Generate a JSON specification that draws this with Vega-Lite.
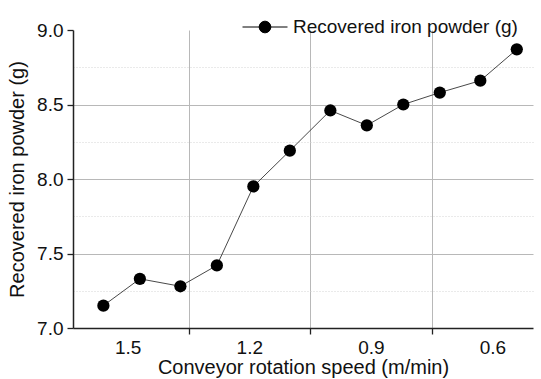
{
  "$schema": "https://vega.github.io/schema/vega-lite/v6.json",
  "width": 460,
  "height": 298,
  "autosize": {"type": "none"},
  "padding": {"left": 73, "top": 30, "right": 8, "bottom": 51},
  "background": "white",
  "config": {
    "view": {"stroke": null},
    "font": "Liberation Sans",
    "axis": {"labelFont": "Liberation Sans", "titleFont": "Liberation Sans", "labelColor": "#111", "titleColor": "#111", "labelFontSize": 19, "titleFontSize": 20, "titleFontWeight": "normal", "domainColor": "#222", "domainWidth": 1.5, "tickColor": "#222", "tickWidth": 1.3}
  },
  "data": {"values": [
    {"speed": 1.56, "iron": 7.15},
    {"speed": 1.47, "iron": 7.33},
    {"speed": 1.37, "iron": 7.28},
    {"speed": 1.28, "iron": 7.42},
    {"speed": 1.19, "iron": 7.95},
    {"speed": 1.10, "iron": 8.19},
    {"speed": 1.00, "iron": 8.46},
    {"speed": 0.91, "iron": 8.36},
    {"speed": 0.82, "iron": 8.50},
    {"speed": 0.73, "iron": 8.58},
    {"speed": 0.63, "iron": 8.66},
    {"speed": 0.54, "iron": 8.87}
  ]},
  "encoding": {
    "x": {
      "field": "speed", "type": "quantitative",
      "scale": {"domain": [0.5, 1.635], "reverse": true, "nice": false, "zero": false},
      "axis": {
        "title": "Conveyor rotation speed (m/min)",
        "values": [1.5, 1.35, 1.2, 1.05, 0.9, 0.75, 0.6],
        "labelExpr": "round(datum.value*100) % 30 == 0 ? format(datum.value, '.1f') : ''",
        "tickSize": 6,
        "tickOpacity": {"condition": {"test": "round(datum.value*100) % 30 == 0", "value": 0}, "value": 1},
        "grid": true,
        "gridColor": "#b8b8b8",
        "gridWidth": 1,
        "gridOpacity": {"condition": {"test": "round(datum.value*100) % 30 == 0", "value": 0}, "value": 1},
        "labelPadding": 4,
        "titlePadding": 0
      }
    },
    "y": {
      "field": "iron", "type": "quantitative",
      "scale": {"domain": [7, 9], "nice": false, "zero": false},
      "axis": {
        "title": "Recovered iron powder (g)",
        "values": [7, 7.25, 7.5, 7.75, 8, 8.25, 8.5, 8.75, 9],
        "labelExpr": "round(datum.value*100) % 50 == 0 ? format(datum.value, '.1f') : ''",
        "tickSize": 6,
        "tickOpacity": {"condition": {"test": "round(datum.value*100) % 50 != 0", "value": 0}, "value": 1},
        "grid": true,
        "gridColor": {"condition": {"test": "round(datum.value*100) % 50 != 0", "value": "#d4d4d4"}, "value": "#b8b8b8"},
        "gridDash": {"condition": {"test": "round(datum.value*100) % 50 != 0", "value": [1, 2]}, "value": []},
        "gridOpacity": {"condition": {"test": "datum.value < 7.1 || datum.value > 8.9", "value": 0}, "value": 1},
        "labelPadding": 4,
        "titlePadding": 9
      }
    }
  },
  "layer": [
    {
      "mark": {"type": "line", "color": "#333", "strokeWidth": 0.9}
    },
    {
      "mark": {"type": "point", "filled": true, "opacity": 1, "size": 150, "shape": "circle"},
      "encoding": {
        "color": {
          "datum": "Recovered iron powder (g)",
          "scale": {"range": ["black"]},
          "legend": {
            "title": null,
            "orient": "none",
            "legendX": 169,
            "legendY": -26,
            "padding": 0,
            "symbolType": "M-1,0L1,0M-0.26,0A0.26,0.26 0 1,0 0.26,0A0.26,0.26 0 1,0 -0.26,0Z",
            "symbolSize": 2025,
            "symbolStrokeColor": "black",
            "symbolFillColor": "black",
            "symbolStrokeWidth": 1,
            "labelFontSize": 19,
            "labelFont": "Liberation Sans",
            "labelColor": "#111",
            "labelLimit": 400,
            "labelOffset": 5,
            "encode": {"symbols": {"update": {"stroke": {"value": "black"}, "fill": {"value": "black"}, "strokeWidth": {"value": 1}, "opacity": {"value": 1}}}}
          }
        }
      }
    }
  ]
}
